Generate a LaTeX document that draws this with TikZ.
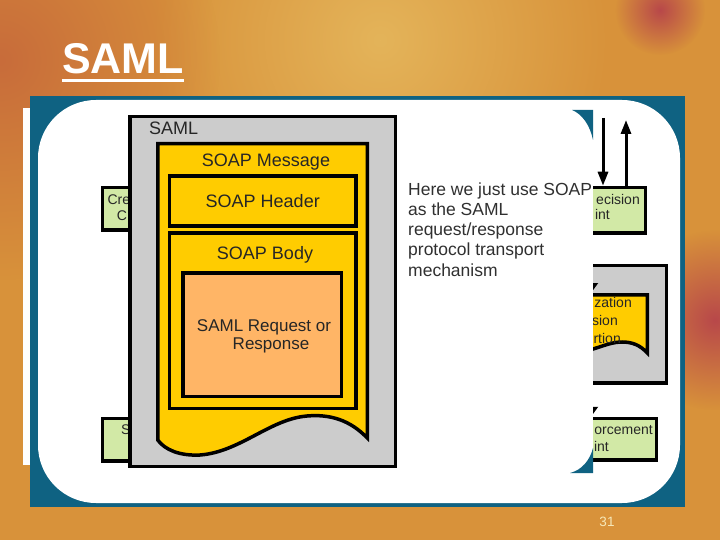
\documentclass[tikz,border=0pt]{standalone}
\usepackage{fontspec}
\setmainfont{Liberation Sans}
\usepackage{xcolor}
\usetikzlibrary{arrows.meta,fadings,positioning}

\definecolor{slidebg}{HTML}{D8923A}
\definecolor{bgbrown}{HTML}{C86C3A}
\definecolor{bggold}{HTML}{E4B45A}
\definecolor{bgred}{HTML}{B8484A}
\definecolor{frameteal}{HTML}{0F6282}
\definecolor{boxgreen}{HTML}{D2E9A6}
\definecolor{boxgray}{HTML}{CCCCCC}
\definecolor{soapyellow}{HTML}{FFCC00}
\definecolor{reqorange}{HTML}{FFB566}
\definecolor{notetext}{HTML}{303030}
\definecolor{pagecol}{HTML}{F6E8B8}
\tikzfading[name=blob, inner color=transparent!0, outer color=transparent!100]

\begin{document}
\begin{tikzpicture}[x=1pt, y=-1pt,
    thickbox/.style={draw=black, line width=3.5pt, inner sep=0pt},
    smallbox/.style={thickbox, fill=boxgreen},
    lbl/.style={font=\fontsize{18}{21}\selectfont, text=black!85, inner sep=0pt},
    small/.style={font=\fontsize{14}{17}\selectfont, text=black!85, inner sep=0pt},
    arr/.style={line width=3pt, -{Triangle[width=10pt,length=14pt]}},
    arrsmall/.style={line width=2pt, -{Triangle[width=14pt,length=10pt]}}]
  \useasboundingbox (0,0) rectangle (720,540);
  % slide background
  \fill[slidebg] (0,0) rectangle (720,540);
  \fill[bggold, path fading=blob] (380,40) circle (230pt);
  \fill[bgbrown, path fading=blob] (0,60) circle (220pt);
  \fill[bgred, path fading=blob] (715,320) circle (90pt);
  \fill[bgred, path fading=blob] (660,10) circle (45pt);
  % title
  \node[font=\fontsize{43}{43}\selectfont\bfseries, text=white, anchor=base west,
        inner sep=0pt] (title) at (62,74) {SAML};
  \draw[white, line width=3pt] ([yshift=-5.5pt]title.south west)
    -- ([yshift=-5.5pt]title.south east);
  % framed picture area
  \fill[frameteal] (30,96) rectangle (685,507);
  \fill[white, rounded corners=58pt] (38,100) rectangle (680,503);
  \fill[white] (23,108) rectangle (30,465);
  % boxes on the left, partly hidden
  \node[smallbox, minimum width=88pt, minimum height=42.5pt, anchor=north west]
    (cred) at (100.75,185.75) {};
  \node[small, anchor=base west] (credA) at (107.3,205) {Cre};
  \node[small, anchor=base west] (credB) at (116.7,221) {C};
  \node[smallbox, minimum width=88pt, minimum height=42.5pt, anchor=north west]
    (sys) at (100.75,416.75) {};
  \node[small, anchor=base west] (sysA) at (121,434) {S};
  % the SAML wrapper
  \node[thickbox, fill=boxgray, minimum width=265.5pt, minimum height=349.5pt]
    (saml) at (262.5,291.5) {};
  \node[lbl, anchor=base west] (samllbl) at (149,135) {SAML};
  \draw[thickbox, fill=soapyellow] (157.75,143.75) -- (367.25,143.75) -- (367.25,438)
    .. controls (350,420) and (330,414) .. (307,416)
    .. controls (270,419) and (240,452) .. (200,455)
    .. controls (180,456) and (165,450) .. (157.75,440) -- cycle;
  \node[lbl, anchor=base] (msglbl) at (266,167) {SOAP Message};
  \node[thickbox, fill=soapyellow, minimum width=186.5pt, minimum height=50.25pt, lbl]
    (header) at (262.75,200.9) {SOAP Header};
  \node[thickbox, fill=soapyellow, minimum width=186.5pt, minimum height=175.5pt]
    (body) at (262.75,320.5) {};
  \node[lbl, anchor=base] (bodylbl) at (265,259) {SOAP Body};
  \node[thickbox, fill=reqorange, minimum width=158.5pt, minimum height=123.5pt]
    (req) at (262,334.5) {};
  \node[lbl, font=\fontsize{17}{20}\selectfont, anchor=base] (reqA) at (264,331) {SAML Request or};
  \node[lbl, font=\fontsize{17}{20}\selectfont, anchor=base] (reqB) at (271,349) {Response};
  % remark
  \node[font=\fontsize{17.5}{20.3}\selectfont, text=notetext, align=left,
        anchor=north west, inner sep=0pt] (note) at (408,182.2)
    {Here we just use SOAP\\as the SAML\\request/response\\protocol transport\\mechanism};
  % boxes on the right, cut off at the left
  \begin{scope}
    \clip (593,100) rectangle (690,505);
    \node[smallbox, minimum width=87.25pt, minimum height=45.5pt, anchor=north east]
      (pdp) at (647.25,185.75) {};
    \node[small, anchor=base east] (pdpA) at (640,205) {ecision};
    \node[small, anchor=base east] (pdpB) at (610,220) {int};
    \coordinate (pdpin) at (603,118);
    \coordinate (pdpout) at (626,120);
    \draw[arr] (pdpin) -- (pdpin |- pdp.north);
    \draw[arr] (pdpout |- pdp.north) -- (pdpout);
    \node[thickbox, fill=boxgray, minimum width=108.25pt, minimum height=117.5pt,
          anchor=north east] (azbox) at (668.25,263.75) {};
    \draw[thickbox, fill=soapyellow] (560,294.75) -- (647.25,294.75) -- (647.25,353)
      .. controls (640,345) and (632,342) .. (622,342)
      .. controls (605,342) and (590,354) .. (560,355) -- cycle;
    \coordinate (azdoc) at (591,293);
    \coordinate (azsrc) at (591,250);
    \draw[arrsmall] (azsrc) -- (azdoc);
    \node[small, anchor=base east] (azA) at (632,307) {zation};
    \node[small, anchor=base east] (azB) at (618,325) {sion};
    \node[small, anchor=base east] (azC) at (621,343) {rtion};
    \node[smallbox, minimum width=98.25pt, minimum height=41.5pt, anchor=north east]
      (pep) at (658.25,416.75) {};
    \coordinate (pepsrc) at (591,380);
    \draw[arrsmall] (pepsrc) -- (pepsrc |- pep.north);
    \node[small, anchor=base east] (pepA) at (653,434) {orcement};
    \node[small, anchor=base east] (pepB) at (609,451) {int};
  \end{scope}
  % teal corners of the inset
  \fill[frameteal] (572,110) -- (593,110) -- (593,140)
    .. controls (590,125) and (582,114) .. (572,110) -- cycle;
  \fill[frameteal] (570,473) -- (593,473) -- (593,448)
    .. controls (590,460) and (582,470) .. (570,473) -- cycle;
  % page number
  \node[font=\fontsize{13.5}{16}\selectfont, text=pagecol, anchor=base] (pageno)
    at (607,526) {31};
\end{tikzpicture}
\end{document}
